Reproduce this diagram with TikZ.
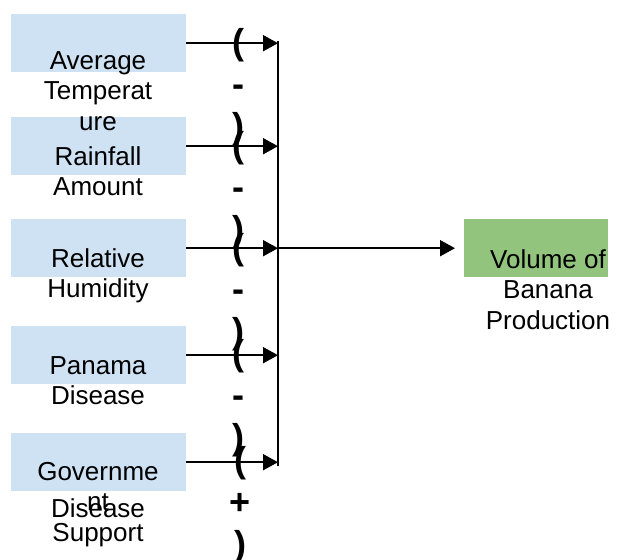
\documentclass[tikz,border=0pt]{standalone}
\usepackage{fontspec}
\setmainfont{Liberation Sans}
\usepackage{tikz}
\usetikzlibrary{arrows.meta}

\definecolor{factorblue}{HTML}{CFE2F3}
\definecolor{outgreen}{HTML}{93C47D}

\begin{document}
\begin{tikzpicture}[x=1pt,y=-1pt,
		factor/.style={rectangle,fill=factorblue,minimum width=175pt,minimum height=58pt,inner sep=0pt,anchor=north west},
		outbox/.style={rectangle,fill=outgreen,minimum width=144pt,minimum height=58pt,inner sep=0pt,anchor=north west},
		boxtext/.style={anchor=base,align=center,inner sep=0pt,font=\fontsize{26}{30.5}\selectfont},
		signtext/.style={anchor=base,align=center,inner sep=0pt,font=\fontsize{36}{42}\selectfont\bfseries},
		link/.style={line width=1.8pt,-{Triangle[length=15pt,width=16pt]}}]
		\useasboundingbox (0,0) rectangle (628,559);
%		\draw[help lines,step=20] (0,0) grid (628,559);
		\path (278,41) coordinate (bustop);
		\path (278,466) coordinate (busbot);

		\path (11,14) coordinate (temp);
		\path (11,117) coordinate (rain);
		\path (11,219) coordinate (humid);
		\path (11,326) coordinate (panama);
		\path (11,433) coordinate (govt);
		\path (464,219) coordinate (volume);

		% base = last line of each text
		\path (98,130) coordinate (temp_txt);
		\path (98,195.5) coordinate (rain_txt);
		\path (98,297.5) coordinate (humid_txt);
		\path (98,404.5) coordinate (panama_txt);
		\path (98,541) coordinate (govt_txt);
		\path (98,517) coordinate (extra_txt);
		\path (548,329) coordinate (volume_txt);

		\path (238,138) coordinate (temp_sign);
		\path (238,241) coordinate (rain_sign);
		\path (238,343) coordinate (humid_sign);
		\path (238,449) coordinate (panama_sign);
		\path (240,556) coordinate (govt_sign);

		% boxes
		\node[factor] (f1) at (temp) {};
		\node[factor] (f2) at (rain) {};
		\node[factor] (f3) at (humid) {};
		\node[factor] (f4) at (panama) {};
		\node[factor] (f5) at (govt) {};
		\node[outbox] (out) at (volume) {};

		% texts
		\node[boxtext] (t1) at (temp_txt) {Average\\Temperat\\ure};
		\node[boxtext] (t2) at (rain_txt) {Rainfall\\Amount};
		\node[boxtext] (t3) at (humid_txt) {Relative\\Humidity};
		\node[boxtext] (t4) at (panama_txt) {Panama\\Disease};
		\node[boxtext] (t5) at (govt_txt) {Governme\\nt\\Support};
		\node[boxtext] (t6) at (extra_txt) {Disease};
		\node[boxtext] (tout) at (volume_txt) {Volume of\\Banana\\Production};

		% signs
		\node[signtext] (s1) at (temp_sign) {(\\-\\)};
		\node[signtext] (s2) at (rain_sign) {(\\-\\)};
		\node[signtext] (s3) at (humid_sign) {(\\-\\)};
		\node[signtext] (s4) at (panama_sign) {(\\-\\)};
		\node[signtext] (s5) at (govt_sign) {(\\+\\)};

		% arrows
		\draw[line width=1.8pt] (bustop) -- (busbot);
		\draw[link] (f1.east) -- (f1.east -| bustop);
		\draw[link] (f2.east) -- (f2.east -| bustop);
		\draw[link] (f3.east) -- (f3.east -| bustop);
		\draw[link] (f4.east) -- (f4.east -| bustop);
		\draw[link] (f5.east) -- (f5.east -| bustop);
		\draw[link,shorten >=9pt] (f3.east -| bustop) -- (out.west);
\end{tikzpicture}
\end{document}
